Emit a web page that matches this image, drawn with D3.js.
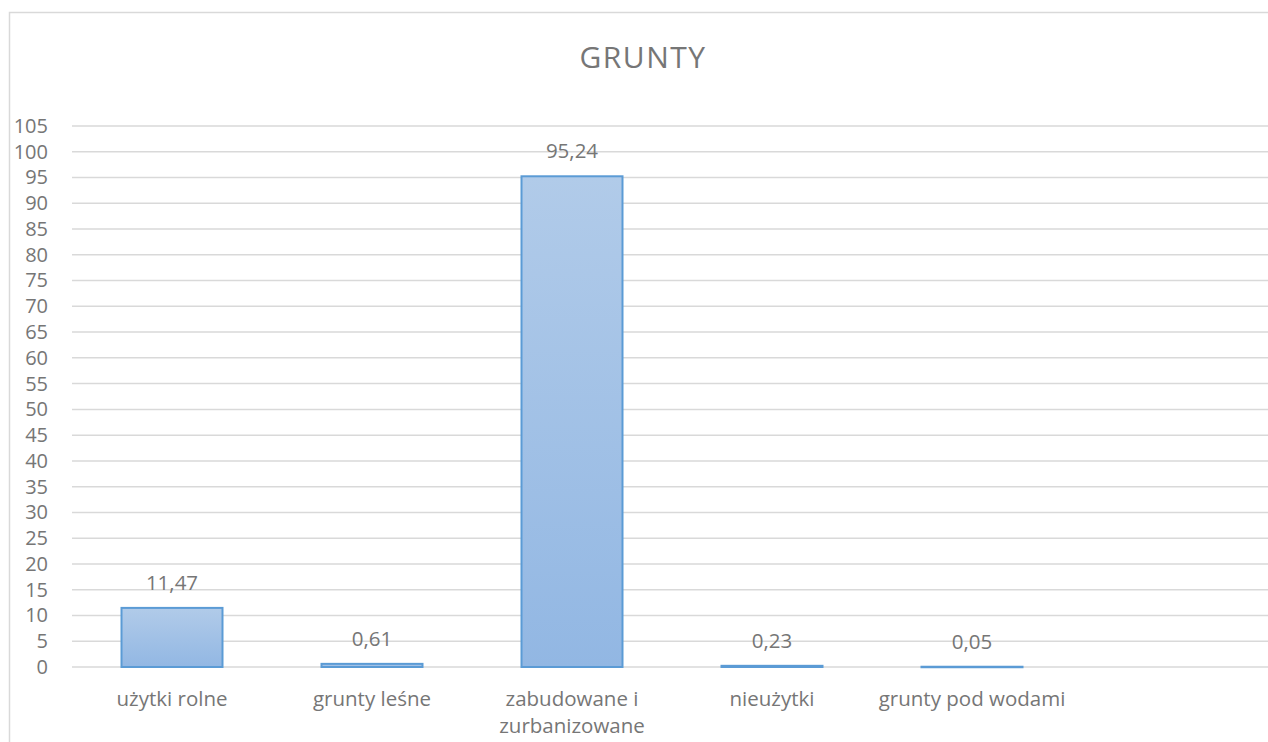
<!DOCTYPE html>
<html>
<head>
<meta charset="utf-8">
<script src="https://cdn.jsdelivr.net/npm/d3@7"></script>
<style>
  body { margin: 0; background: #fff; }
  text { font-family: "Open Sans", sans-serif; }
</style>
</head>
<body>
<script>
// data
var categories = ["użytki rolne", "grunty leśne", "zabudowane i zurbanizowane", "nieużytki", "grunty pod wodami"];
var values = [11.47, 0.61, 95.24, 0.23, 0.05];
var yTicks = d3.range(0, 106, 5);
var title = "GRUNTY";

var width = 1268, height = 742;
var plotLeft = 72, plotTop = 126, plotBottom = 667;
var textColor = "#767676";

var svg = d3.select("body").append("svg")
  .attr("width", width)
  .attr("height", height);

// chart area border
svg.append("rect")
  .attr("x", 9.5).attr("y", 12.5)
  .attr("width", 1300).attr("height", 800)
  .attr("fill", "none")
  .attr("stroke", "#d9d9d9")
  .attr("stroke-width", 1.5);

var x = d3.scaleBand()
  .domain(categories)
  .range([plotLeft, plotLeft + 200 * categories.length])
  .paddingInner(0.495)
  .paddingOuter(0.2475);

var y = d3.scaleLinear()
  .domain([0, 105])
  .range([plotBottom, plotTop]);

// gradient for bars
var grad = svg.append("defs").append("linearGradient")
  .attr("id", "barGrad")
  .attr("x1", 0).attr("y1", 0).attr("x2", 0).attr("y2", 1);
grad.append("stop").attr("offset", "0%").attr("stop-color", "#b1cbe9");
grad.append("stop").attr("offset", "100%").attr("stop-color", "#92b7e3");

// gridlines
svg.append("g")
  .selectAll("line")
  .data(yTicks)
  .enter()
  .append("line")
  .attr("x1", plotLeft)
  .attr("x2", width)
  .attr("y1", function (d) { return y(d); })
  .attr("y2", function (d) { return y(d); })
  .attr("stroke", "#d9d9d9")
  .attr("stroke-width", 1.5);

// y axis labels
var yAxis = d3.axisLeft(y).tickValues(yTicks).tickSize(0).tickPadding(0);
var gy = svg.append("g")
  .attr("transform", "translate(48,0)")
  .call(yAxis);
gy.select(".domain").remove();
gy.selectAll("text")
  .attr("font-family", "'Open Sans', sans-serif")
  .attr("font-size", "20px")
  .attr("fill", textColor);

// bars
svg.append("g")
  .selectAll("rect")
  .data(values)
  .enter()
  .append("rect")
  .attr("x", function (d, i) { return x(categories[i]); })
  .attr("y", function (d) { return y(d); })
  .attr("width", x.bandwidth())
  .attr("height", function (d) { return Math.max(y(0) - y(d), 0.5); })
  .attr("fill", "url(#barGrad)")
  .attr("stroke", "#5b9bd5")
  .attr("stroke-width", 2);

// data labels
svg.append("g")
  .selectAll("text")
  .data(values)
  .enter()
  .append("text")
  .attr("x", function (d, i) { return x(categories[i]) + x.bandwidth() / 2; })
  .attr("y", function (d) { return y(d) - 18; })
  .attr("text-anchor", "middle")
  .attr("font-size", "20.5px")
  .attr("fill", textColor)
  .text(function (d) { return d3.format(".2f")(d).replace(".", ","); });

// category labels
var xAxis = d3.axisBottom(x).tickSize(0).tickPadding(0);
var gx = svg.append("g")
  .attr("transform", "translate(0," + plotBottom + ")")
  .call(xAxis);
gx.select(".domain").remove();
gx.selectAll("text").remove();
gx.selectAll(".tick").each(function (d) {
  var lines = d === "zabudowane i zurbanizowane" ? ["zabudowane i", "zurbanizowane"] : [d];
  var t = d3.select(this).append("text")
    .attr("text-anchor", "middle")
    .attr("font-family", "'Open Sans', sans-serif")
    .attr("font-size", "20.5px")
    .attr("fill", textColor);
  lines.forEach(function (l, i) {
    t.append("tspan").attr("x", 0).attr("y", 39 + i * 27).text(l);
  });
});

// title
svg.append("text")
  .attr("x", 643)
  .attr("y", 68)
  .attr("text-anchor", "middle")
  .attr("font-size", "30px")
  .attr("letter-spacing", "1.5px")
  .attr("fill", textColor)
  .text(title);
</script>
</body>
</html>
